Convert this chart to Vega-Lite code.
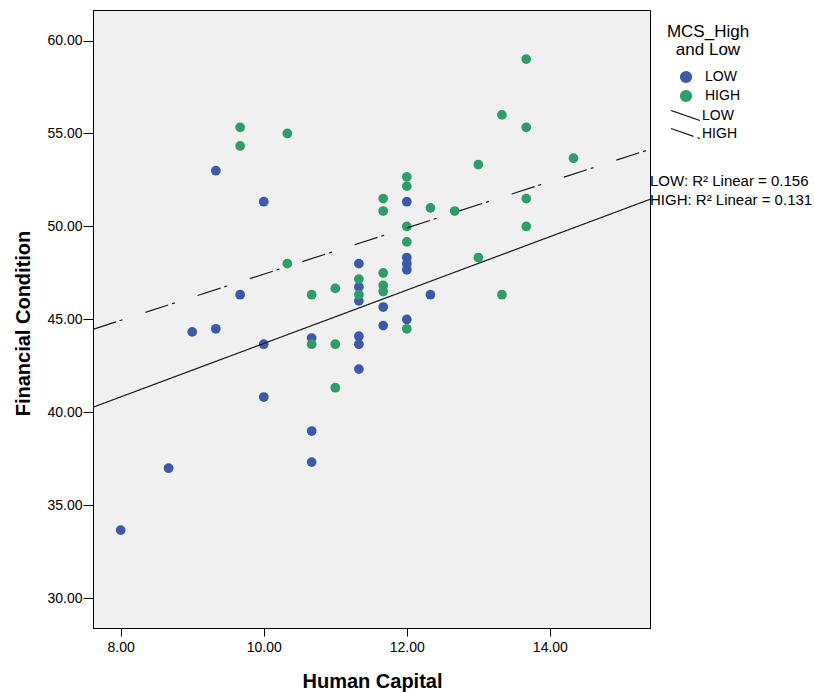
{
  "$schema": "https://vega.github.io/schema/vega-lite/v6.json",
  "width": 557,
  "height": 618,
  "autosize": "none",
  "padding": {"left": 93, "top": 10, "right": 164, "bottom": 64},
  "background": "white",
  "config": {
    "view": {"fill": "#f0f0f0", "stroke": "black", "strokeWidth": 1},
    "font": "Liberation Sans",
    "axis": {
      "domainColor": "black", "domainWidth": 1, "tickColor": "black", "tickWidth": 1,
      "labelColor": "black", "titleColor": "black",
      "labelFont": "Liberation Sans", "titleFont": "Liberation Sans",
      "labelFontSize": 14, "titleFontSize": 20, "titleFontWeight": "bold", "grid": false
    },
    "legend": {
      "labelFont": "Liberation Sans", "titleFont": "Liberation Sans",
      "labelColor": "black", "titleColor": "black", "labelFontSize": 14, "padding": 0
    }
  },
  "datasets": {
    "points": [
      {"hc": 8.0, "fc": 33.67, "group": "LOW"},
      {"hc": 8.67, "fc": 37.0, "group": "LOW"},
      {"hc": 9.0, "fc": 44.33, "group": "LOW"},
      {"hc": 9.33, "fc": 44.5, "group": "LOW"},
      {"hc": 9.33, "fc": 53.0, "group": "LOW"},
      {"hc": 9.67, "fc": 46.33, "group": "LOW"},
      {"hc": 10.0, "fc": 51.33, "group": "LOW"},
      {"hc": 10.0, "fc": 43.67, "group": "LOW"},
      {"hc": 10.0, "fc": 40.83, "group": "LOW"},
      {"hc": 10.67, "fc": 44.0, "group": "LOW"},
      {"hc": 10.67, "fc": 39.0, "group": "LOW"},
      {"hc": 10.67, "fc": 37.33, "group": "LOW"},
      {"hc": 11.33, "fc": 48.0, "group": "LOW"},
      {"hc": 11.33, "fc": 46.75, "group": "LOW"},
      {"hc": 11.33, "fc": 46.0, "group": "LOW"},
      {"hc": 11.33, "fc": 44.1, "group": "LOW"},
      {"hc": 11.33, "fc": 43.67, "group": "LOW"},
      {"hc": 11.33, "fc": 42.33, "group": "LOW"},
      {"hc": 11.67, "fc": 45.67, "group": "LOW"},
      {"hc": 11.67, "fc": 44.67, "group": "LOW"},
      {"hc": 12.0, "fc": 51.33, "group": "LOW"},
      {"hc": 12.0, "fc": 48.33, "group": "LOW"},
      {"hc": 12.0, "fc": 48.0, "group": "LOW"},
      {"hc": 12.0, "fc": 47.67, "group": "LOW"},
      {"hc": 12.0, "fc": 45.0, "group": "LOW"},
      {"hc": 12.33, "fc": 46.33, "group": "LOW"},
      {"hc": 9.67, "fc": 55.33, "group": "HIGH"},
      {"hc": 9.67, "fc": 54.33, "group": "HIGH"},
      {"hc": 10.33, "fc": 55.0, "group": "HIGH"},
      {"hc": 10.33, "fc": 48.0, "group": "HIGH"},
      {"hc": 10.67, "fc": 46.33, "group": "HIGH"},
      {"hc": 10.67, "fc": 43.67, "group": "HIGH"},
      {"hc": 11.0, "fc": 46.67, "group": "HIGH"},
      {"hc": 11.0, "fc": 43.67, "group": "HIGH"},
      {"hc": 11.0, "fc": 41.33, "group": "HIGH"},
      {"hc": 11.33, "fc": 47.17, "group": "HIGH"},
      {"hc": 11.33, "fc": 46.33, "group": "HIGH"},
      {"hc": 11.67, "fc": 51.5, "group": "HIGH"},
      {"hc": 11.67, "fc": 50.83, "group": "HIGH"},
      {"hc": 11.67, "fc": 47.5, "group": "HIGH"},
      {"hc": 11.67, "fc": 46.83, "group": "HIGH"},
      {"hc": 11.67, "fc": 46.5, "group": "HIGH"},
      {"hc": 12.0, "fc": 52.67, "group": "HIGH"},
      {"hc": 12.0, "fc": 52.17, "group": "HIGH"},
      {"hc": 12.0, "fc": 50.0, "group": "HIGH"},
      {"hc": 12.0, "fc": 49.17, "group": "HIGH"},
      {"hc": 12.0, "fc": 44.5, "group": "HIGH"},
      {"hc": 12.33, "fc": 51.0, "group": "HIGH"},
      {"hc": 12.67, "fc": 50.83, "group": "HIGH"},
      {"hc": 13.0, "fc": 53.33, "group": "HIGH"},
      {"hc": 13.0, "fc": 48.33, "group": "HIGH"},
      {"hc": 13.33, "fc": 56.0, "group": "HIGH"},
      {"hc": 13.33, "fc": 46.33, "group": "HIGH"},
      {"hc": 13.67, "fc": 59.0, "group": "HIGH"},
      {"hc": 13.67, "fc": 55.33, "group": "HIGH"},
      {"hc": 13.67, "fc": 51.5, "group": "HIGH"},
      {"hc": 13.67, "fc": 50.0, "group": "HIGH"},
      {"hc": 14.33, "fc": 53.67, "group": "HIGH"}
    ],
    "fits": [
      {"hc": 7.613, "fc": 40.28, "fit": "LOW fit"},
      {"hc": 15.40, "fc": 51.46, "fit": "LOW fit"},
      {"hc": 7.613, "fc": 44.47, "fit": "HIGH fit"},
      {"hc": 15.40, "fc": 54.15, "fit": "HIGH fit"}
    ],
    "notes": [
      {"hc": 15.40, "fc": 52.45, "label": "LOW: R² Linear = 0.156"},
      {"hc": 15.40, "fc": 51.42, "label": "HIGH: R² Linear = 0.131"}
    ]
  },
  "encoding": {
    "x": {
      "field": "hc", "type": "quantitative",
      "scale": {"domain": [7.613, 15.40], "nice": false, "zero": false},
      "axis": {
        "title": "Human Capital", "values": [8, 10, 12, 14], "format": ".2f",
        "tickSize": 8, "labelPadding": 4, "titleX": 279, "titleY": 59, "titleBaseline": "alphabetic"
      }
    },
    "y": {
      "field": "fc", "type": "quantitative",
      "scale": {"domain": [28.41, 61.64], "nice": false, "zero": false},
      "axis": {
        "title": "Financial Condition", "values": [30, 35, 40, 45, 50, 55, 60], "format": ".2f",
        "tickSize": 10, "labelPadding": 1, "titleX": -70, "titleY": 313,
        "titleAngle": -90, "titleAlign": "center", "titleBaseline": "middle"
      }
    }
  },
  "layer": [
    {
      "data": {"name": "points"},
      "mark": {"type": "circle", "size": 95, "opacity": 1},
      "encoding": {
        "color": {
          "field": "group", "type": "nominal",
          "scale": {"domain": ["LOW", "HIGH"], "range": ["#3e58ac", "#2e9e68"]},
          "legend": {
            "title": ["MCS_High", "and Low"], "orient": "none", "legendX": 574, "legendY": 14,
            "titleFontSize": 17, "titleFontWeight": "normal", "titleAlign": "center",
            "titleAnchor": "middle", "titleLineHeight": 18, "titlePadding": 11,
            "symbolType": "circle", "symbolSize": 150, "symbolOffset": 4,
            "labelOffset": 12, "rowPadding": 5, "symbolStrokeWidth": 0
          }
        }
      }
    },
    {
      "data": {"name": "fits"},
      "mark": {"type": "line", "color": "#1a1a1a", "strokeWidth": 1.2},
      "encoding": {
        "strokeDash": {
          "field": "fit", "type": "nominal",
          "scale": {"domain": ["LOW fit", "HIGH fit"], "range": [[1, 0], [24, 4, 3, 24]]},
          "legend": {
            "title": null, "orient": "none", "legendX": 582, "legendY": 95,
            "labelExpr": "split(datum.label, ' ')[0]",
            "symbolType": "M-1.53,-0.53L1.53,0.53", "symbolSize": 361,
            "symbolStrokeColor": "#1a1a1a", "symbolStrokeWidth": 1.2,
            "labelOffset": 6, "rowPadding": 0
          }
        }
      }
    },
    {
      "data": {"name": "notes"},
      "mark": {"type": "text", "align": "left", "baseline": "middle", "fontSize": 15, "font": "Liberation Sans", "color": "black"},
      "encoding": {"text": {"field": "label", "type": "nominal"}}
    }
  ]
}
